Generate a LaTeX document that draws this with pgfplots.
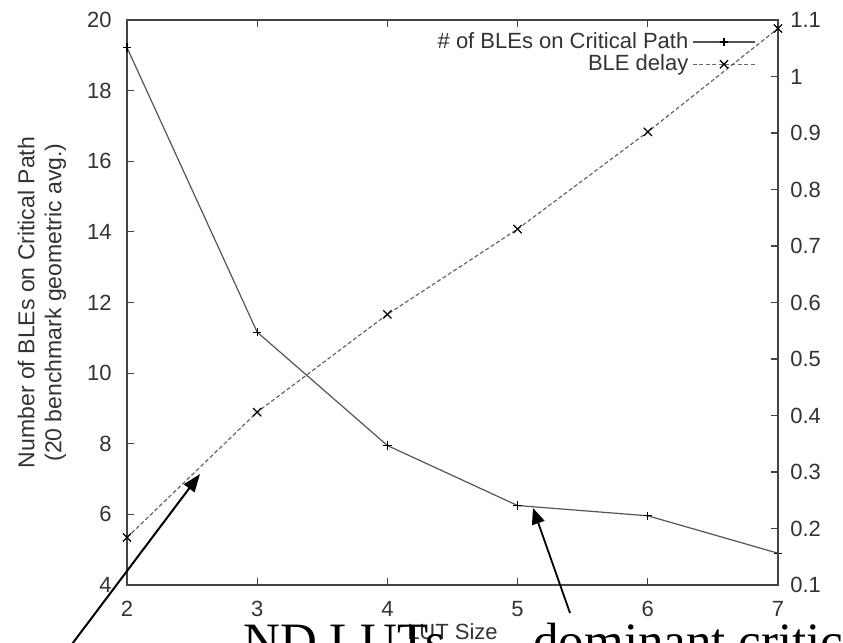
\documentclass[border=0pt]{standalone}
\usepackage{pgfplots}
\pgfplotsset{compat=1.18}
\usepackage{fontspec}
\setmainfont{Liberation Sans}
\newfontfamily\seriffont{Liberation Serif}
\usetikzlibrary{arrows.meta}
\definecolor{axgray}{HTML}{444444}
\definecolor{lngray}{HTML}{555555}
\definecolor{dsgray}{HTML}{666666}
\definecolor{txtgray}{HTML}{333333}
\begin{document}
\fontsize{11}{13}\selectfont
\begin{tikzpicture}
\pgfplotsset{
  every axis/.append style={
    scale only axis, width=325.5pt, height=282.5pt,
    at={(0pt,0pt)}, anchor=south west,
    xmin=2, xmax=7,
    tick align=inside, major tick length=3.5pt,
    /pgf/number format/assume math mode=true,
    tick label style={font=\fontsize{11}{13}\selectfont, text=txtgray},
    label style={font=\fontsize{11.5}{13.5}\selectfont, text=txtgray},
    axis line style={axgray, line width=0.8pt},
    tick style={axgray, line width=0.6pt},
    legend image code/.code={\draw[mark repeat=2,mark phase=2,#1] plot coordinates {(0cm,0cm) (0.545cm,0cm) (1.09cm,0cm)};},
  }
}
\begin{axis}[
  ymin=4, ymax=20, ytick={4,6,...,20}, xtick={2,3,4,5,6,7},
  ytick pos=left, xtick pos=both,
  yticklabel style={xshift=-3.8pt},
  xticklabel style={yshift=-4.3pt},
  xlabel={LUT Size},
  xlabel style={at={(axis description cs:0.5,-0.0832)}, anchor=center, font=\fontsize{11}{13}\selectfont},
  ylabel={Number of BLEs on Critical Path\\(20 benchmark geometric avg.)},
  ylabel style={at={(axis description cs:-0.1306,0.5)}, anchor=center, align=center},
]
\addplot[lngray, line width=0.6pt, mark=+, mark size=2.1pt, mark options={solid, black, line width=0.6pt}]
  coordinates {(2,19.22) (3,11.16) (4,7.95) (5,6.25) (6,5.96) (7,4.90)};
\end{axis}
\begin{axis}[
  ymin=0.1, ymax=1.1, ytick={0.1,0.2,0.3,0.4,0.5,0.6,0.7,0.8,0.9,1.0,1.1},
  axis y line*=right, axis x line=none, ytick pos=right,
  yticklabel style={xshift=2.3pt, /pgf/number format/fixed},
  legend style={draw=none, fill=none, at={(rel axis cs:1,1)}, anchor=north east,
    xshift=-8pt, yshift=-2pt, font=\fontsize{11}{13}\selectfont, text=txtgray,
    row sep=-2.5pt, /tikz/every even column/.append style={column sep=4pt}},
  legend cell align=right, legend plot pos=right,
]
\addlegendimage{lngray, line width=0.6pt, mark=+, mark size=2.1pt, mark options={solid, black, line width=0.6pt}}
\addlegendentry{\# of BLEs on Critical Path}
\addplot[dsgray, line width=0.6pt, dash pattern=on 2pt off 1.2pt, mark=x, mark size=2.9pt, mark options={solid, black, line width=0.6pt}]
  coordinates {(2,0.184) (3,0.406) (4,0.579) (5,0.730) (6,0.902) (7,1.085)};
\addlegendentry{BLE delay}
\end{axis}
\draw[black, line width=1pt, -{Triangle[length=9pt,width=6.5pt]}] (-41pt,-47.5pt) -- (36.5pt,55.5pt);
\draw[black, line width=0.9pt, -{Triangle[length=8pt,width=6.5pt]}] (221.5pt,-14pt) -- (203pt,38.5pt);
\node[anchor=base west, font=\seriffont\fontsize{25.5}{30}\selectfont, inner sep=0pt] at (58pt,-37pt) {ND LUTs};
\node[anchor=base west, font=\seriffont\fontsize{25.5}{30}\selectfont, inner sep=0pt] at (203pt,-37pt) {dominant critical};
\pgfresetboundingbox
\useasboundingbox (-63.5pt,-29pt) rectangle (358pt,292.5pt);
\end{tikzpicture}
\end{document}
